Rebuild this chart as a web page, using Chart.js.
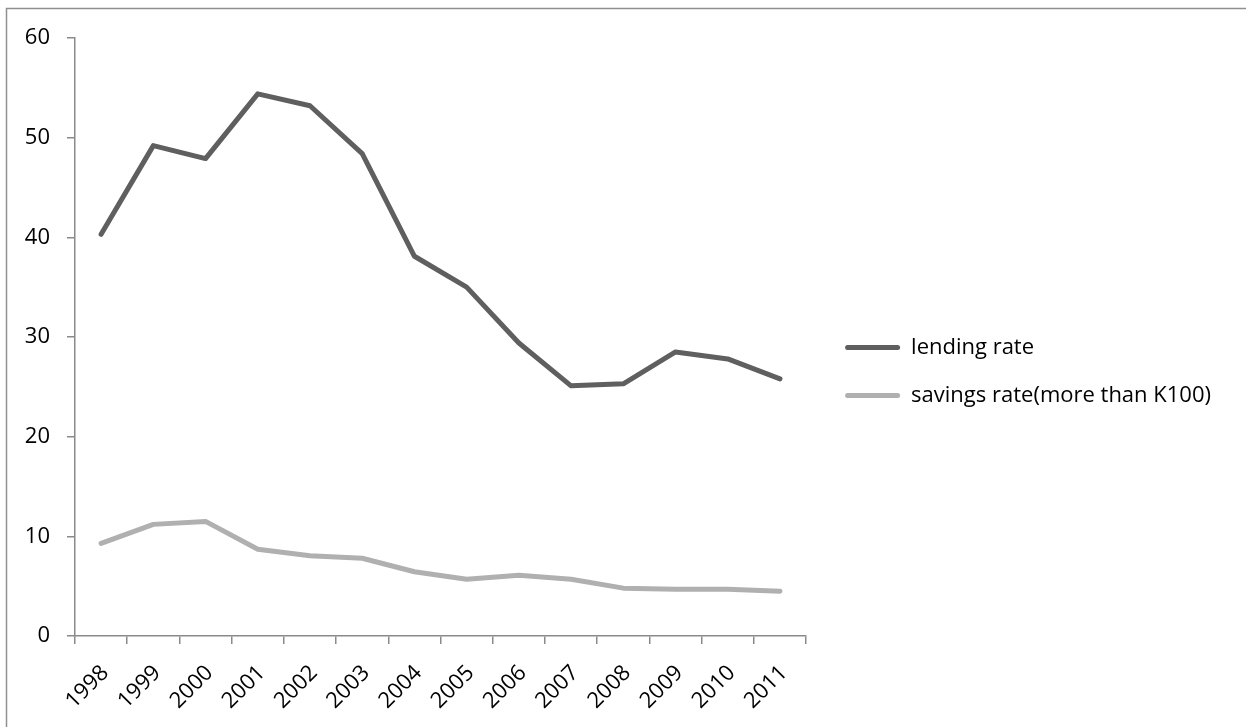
<!DOCTYPE html>
<html>
<head>
<meta charset="utf-8">
<script src="https://cdn.jsdelivr.net/npm/chart.js@4/dist/chart.umd.min.js"></script>
<style>
  html, body { margin: 0; padding: 0; background: #fff; }
  #wrap { width: 1246px; height: 727px; }
</style>
</head>
<body>
<div id="wrap"><canvas id="chart" width="1246" height="727"></canvas></div>
<script>
// Interest rates by year (%)
const years = ['1998', '1999', '2000', '2001', '2002', '2003', '2004', '2005', '2006', '2007', '2008', '2009', '2010', '2011'];
const lendingRate = [40.3, 49.2, 47.9, 54.4, 53.2, 48.4, 38.1, 35.0, 29.4, 25.1, 25.3, 28.5, 27.8, 25.8];
const savingsRate = [9.3, 11.2, 11.5, 8.7, 8.05, 7.8, 6.45, 5.7, 6.1, 5.7, 4.8, 4.7, 4.7, 4.5];
const seriesNames = ['lending rate', 'savings rate(more than K100)'];
const yMin = 0, yMax = 60, yStep = 10;

const axisColor = '#8a8a8a';
const labelFont = { family: 'Open Sans', size: 22 };

// thin frame around the chart
const framePlugin = {
  id: 'frame',
  beforeDraw(chart) {
    const ctx = chart.ctx;
    ctx.save();
    ctx.fillStyle = '#fff';
    ctx.fillRect(0, 0, chart.width, chart.height);
    ctx.strokeStyle = '#8f8f8f';
    ctx.lineWidth = 1.5;
    ctx.strokeRect(6.5, 8.5, chart.width + 20, chart.height + 20);
    ctx.restore();
  }
};

// nudge the legend block next to the plot
const legendOffset = { dx: 13, dy: -11 };
const legendNudge = {
  id: 'legendNudge',
  afterLayout(chart) {
    const lg = chart.legend;
    if (!lg) return;
    lg.left += legendOffset.dx; lg.right += legendOffset.dx;
    lg.top += legendOffset.dy; lg.bottom += legendOffset.dy;
  }
};

new Chart(document.getElementById('chart'), {
  type: 'line',
  data: {
    labels: years,
    datasets: [
      {
        label: seriesNames[0],
        data: lendingRate,
        borderColor: '#5f5f5f',
        backgroundColor: '#5f5f5f',
        borderWidth: 5,
        pointRadius: 0,
        tension: 0,
        borderCapStyle: 'round',
        borderJoinStyle: 'round'
      },
      {
        label: seriesNames[1],
        data: savingsRate,
        borderColor: '#b0b0b0',
        backgroundColor: '#b0b0b0',
        borderWidth: 5,
        pointRadius: 0,
        tension: 0,
        borderCapStyle: 'round',
        borderJoinStyle: 'round'
      }
    ]
  },
  options: {
    responsive: false,
    animation: false,
    devicePixelRatio: 1,
    layout: { padding: { top: 38, left: 0, right: 38, bottom: 0 } },
    plugins: {
      tooltip: { enabled: false },
      legend: {
        position: 'right',
        align: 'center',
        maxWidth: 600,
        labels: {
          boxWidth: 55,
          boxHeight: 5,
          padding: 26,
          color: '#000',
          font: labelFont,
          useBorderRadius: true,
          borderRadius: 2.5,
          generateLabels(chart) {
            const items = Chart.defaults.plugins.legend.labels.generateLabels(chart);
            items.forEach(it => { it.lineWidth = 0; });
            return items;
          }
        }
      }
    },
    scales: {
      x: {
        type: 'category',
        offset: true,
        grid: { offset: true, drawOnChartArea: false, drawTicks: true, tickLength: 8, color: axisColor, lineWidth: 1.5 },
        border: { display: true, color: axisColor, width: 1.5 },
        ticks: { autoSkip: false, minRotation: 45, maxRotation: 45, color: '#000', font: labelFont, padding: 16, labelOffset: 4 },
        afterFit(s) { s.height = 91; s.paddingLeft = 0; s.paddingRight = 0; }
      },
      y: {
        min: yMin,
        max: yMax,
        grid: { drawOnChartArea: false, drawTicks: true, tickLength: 8, color: axisColor, lineWidth: 1.5 },
        border: { display: true, color: axisColor, width: 1.5 },
        ticks: { stepSize: yStep, color: '#000', font: labelFont, padding: 17 },
        afterFit(s) { s.width = 75; s.paddingTop = 0; s.paddingBottom = 0; }
      }
    }
  },
  plugins: [framePlugin, legendNudge]
});
</script>
</body>
</html>
